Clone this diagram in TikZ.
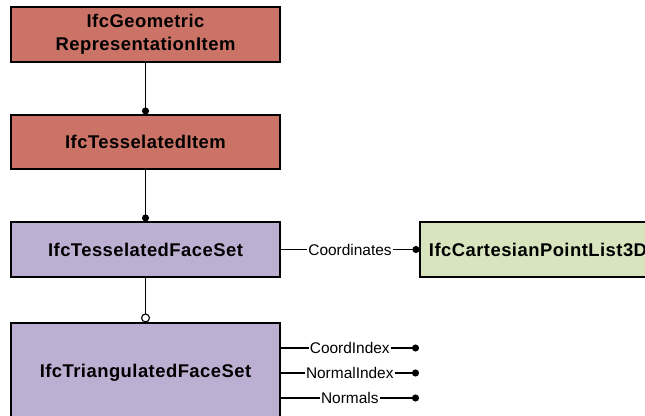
\documentclass[tikz,border=0pt]{standalone}
\usepackage{fontspec}
\setmainfont{Liberation Sans}
\usetikzlibrary{arrows.meta}
\definecolor{redbox}{RGB}{204,115,103}
\definecolor{purplebox}{RGB}{189,175,210}
\definecolor{greenbox}{RGB}{216,228,190}
\begin{document}
\begin{tikzpicture}[x=1bp,y=-1bp,
  cls/.style={draw=black, line width=1.1bp, minimum width=269bp, inner sep=0pt,
    font=\bfseries\fontsize{18.5}{23}\selectfont\addfontfeature{LetterSpace=2.5}, align=center},
  conn/.style={draw=black, line width=1.1bp},
  dot/.style={-{Circle[length=7bp]}},
  odot/.style={-{Circle[open,length=9bp,fill=white]}},
  lbl/.style={fill=white, inner sep=1bp, font=\fontsize{15.5}{17}\selectfont}]
\clip (0,0) rectangle (645,415);
\node[cls, fill=redbox, minimum height=55bp] (geo) at (145.5,34.5) {IfcGeometric\\RepresentationItem};
\node[cls, fill=redbox, minimum height=54bp] (tess) at (145.5,142) {IfcTesselatedItem};
\node[cls, fill=purplebox, minimum height=55bp] (face) at (145.5,249.5) {IfcTesselatedFaceSet};
\node[cls, fill=purplebox, minimum height=100bp] (tri) at (145.5,373) {IfcTriangulatedFaceSet};
\node[cls, fill=greenbox, minimum height=55bp, minimum width=236bp] (pts) at (538,249.5) {IfcCartesianPointList3D};
\coordinate (ci) at (419,348);
\coordinate (ni) at (419,373);
\coordinate (nm) at (419,398);
\draw[conn, dot] (geo) -- (tess);
\draw[conn, dot] (tess) -- (face);
\draw[conn, odot] (face) -- (tri);
\draw[conn, dot] (face.east) -- (pts.west) node[lbl, midway] {Coordinates};
\draw[conn, dot] (tri.east |- ci) -- (ci) node[lbl, midway] {CoordIndex};
\draw[conn, dot] (tri.east |- ni) -- (ni) node[lbl, midway] {NormalIndex};
\draw[conn, dot] (tri.east |- nm) -- (nm) node[lbl, midway] {Normals};
\end{tikzpicture}
\end{document}
